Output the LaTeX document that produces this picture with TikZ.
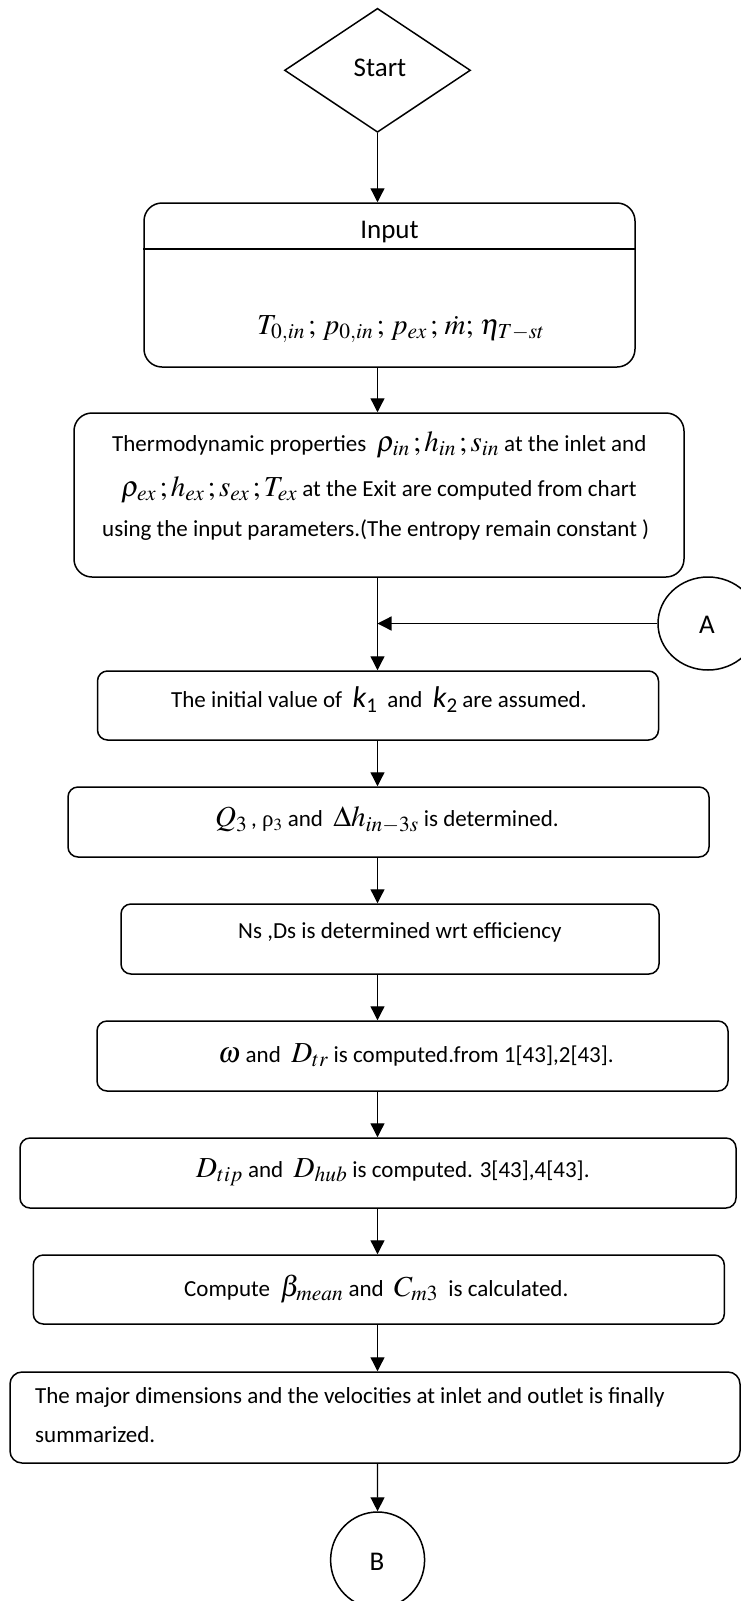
\documentclass[tikz,border=0pt]{standalone}
\usepackage{mathptmx}
\usepackage[no-math]{fontspec}
\setmainfont{Carlito}
\newfontfamily\tms{Liberation Serif}
\usetikzlibrary{shapes.geometric,arrows.meta}
\newcommand\mth[1]{{\fontsize{29}{29}\selectfont$#1$}}
\newcommand\kk[1]{{\fontsize{30}{30}\selectfont\itshape k}\raisebox{-5pt}{\fontsize{21}{21}\selectfont #1}}
\begin{document}
\begin{tikzpicture}[x=1pt,y=-1pt,
  flowbox/.style={draw, line width=1.5pt, rounded corners=10pt, inner sep=0pt},
  txt/.style={inner sep=0pt, anchor=west, font=\fontsize{23}{27}\selectfont},
  big/.style={inner sep=0pt, font=\fontsize{27}{30}\selectfont},
  arr/.style={line width=1.3pt, -{Triangle[length=14pt,width=14pt]}},
  conn/.style={draw, line width=1.5pt, ellipse, inner sep=0pt}]
\useasboundingbox (0,0) rectangle (741,1601);
% shapes
\node[diamond, draw, line width=1.5pt, minimum width=186pt, minimum height=124pt, inner sep=0pt] (start) at (377.5,70.3) {};
\node[flowbox, rounded corners=18pt, minimum width=491pt, minimum height=164pt] (input) at (389.5,285) {};
\node[flowbox, rounded corners=18pt, minimum width=610pt, minimum height=164pt] (thermo) at (379,495) {};
\node[conn, minimum width=100pt, minimum height=93pt] (A) at (708,623.5) {};
\node[flowbox, minimum width=561pt, minimum height=69pt] (k1) at (378,705.5) {};
\node[flowbox, minimum width=641pt, minimum height=70pt] (q3) at (388.5,822) {};
\node[flowbox, minimum width=538pt, minimum height=70pt] (ns) at (390,939) {};
\node[flowbox, minimum width=631pt, minimum height=70pt] (om) at (412.5,1056) {};
\node[flowbox, minimum width=716pt, minimum height=70pt] (dt) at (378,1173) {};
\node[flowbox, minimum width=691pt, minimum height=69pt] (cp) at (378.8,1289.5) {};
\node[flowbox, rounded corners=12pt, minimum width=730pt, minimum height=91pt] (mj) at (375,1417.5) {};
\node[conn, minimum width=94pt, minimum height=96pt] (B) at (377.6,1560) {};
\draw[line width=1.5pt] (input.west |- 0,249) -- (input.east |- 0,249);
% texts
\node[big] (startt) at (380,68) {Start};
\node[big] (inputt) at (389.5,232) {Input};
\node[txt] (inputm) at (257,329) {\mth{T_{0,in}\,;\,p_{0,in}\,;\,p_{ex}\,;\,\dot{m};\,\eta_{T-st}}};
\node[txt] (th1) at (112,445) {Thermodynamic properties \ \mth{\rho_{in}\,;h_{in}\,;s_{in}} at the inlet and};
\node[txt] (th2) at (121,490) {\mth{\rho_{ex}\,;h_{ex}\,;s_{ex}\,;T_{ex}} at the Exit are computed from chart};
\node[txt] (th3) at (102,530) {using the input parameters.(The entropy remain constant )};
\node[big] (At) at (707,625) {A};
\node[txt] (k1t) at (171,700) {The initial value of \ \kk{1} \ and \ \kk{2} are assumed.};
\node[txt] (q3t) at (215,820) {\mth{Q_3}\,, {\tms ρ}$_3$ and \ \mth{\Delta h_{in-3s}} is determined.};
\node[txt] (nst) at (238,932) {Ns ,Ds is determined wrt efficiency};
\node[txt] (omt) at (218,1055) {\mth{\omega} and \ \mth{D_{tr}} is computed.from 1[43],2[43].};
\node[txt] (dtt) at (196,1172) {\mth{D_{tip}} and \ \mth{D_{hub}} is computed. 3[43],4[43].};
\node[txt] (cpt) at (184,1289) {Compute \ \mth{\beta_{mean}} and \ \mth{C_{m3}} \ is calculated.};
\node[txt] (mj1) at (35,1397) {The major dimensions and the velocities at inlet and outlet is finally};
\node[txt] (mj2) at (35,1435) {summarized.};
\node[big] (Bt) at (377,1562) {B};
% connectors
\coordinate (j) at (start |- A);
\draw[arr] (start.south) -- (start.south |- input.north);
\draw[arr] (input.south -| start) -- (thermo.north -| start);
\draw[arr] (thermo.south -| start) -- (k1.north -| start);
\draw[arr] (A) -- (j);
\draw[arr] (k1.south -| start) -- (q3.north -| start);
\draw[arr] (q3.south -| start) -- (ns.north -| start);
\draw[arr] (ns.south -| start) -- (om.north -| start);
\draw[arr] (om.south -| start) -- (dt.north -| start);
\draw[arr] (dt.south -| start) -- (cp.north -| start);
\draw[arr] (cp.south -| start) -- (mj.north -| start);
\draw[arr] (mj.south -| start) -- (B);
\end{tikzpicture}
\end{document}
